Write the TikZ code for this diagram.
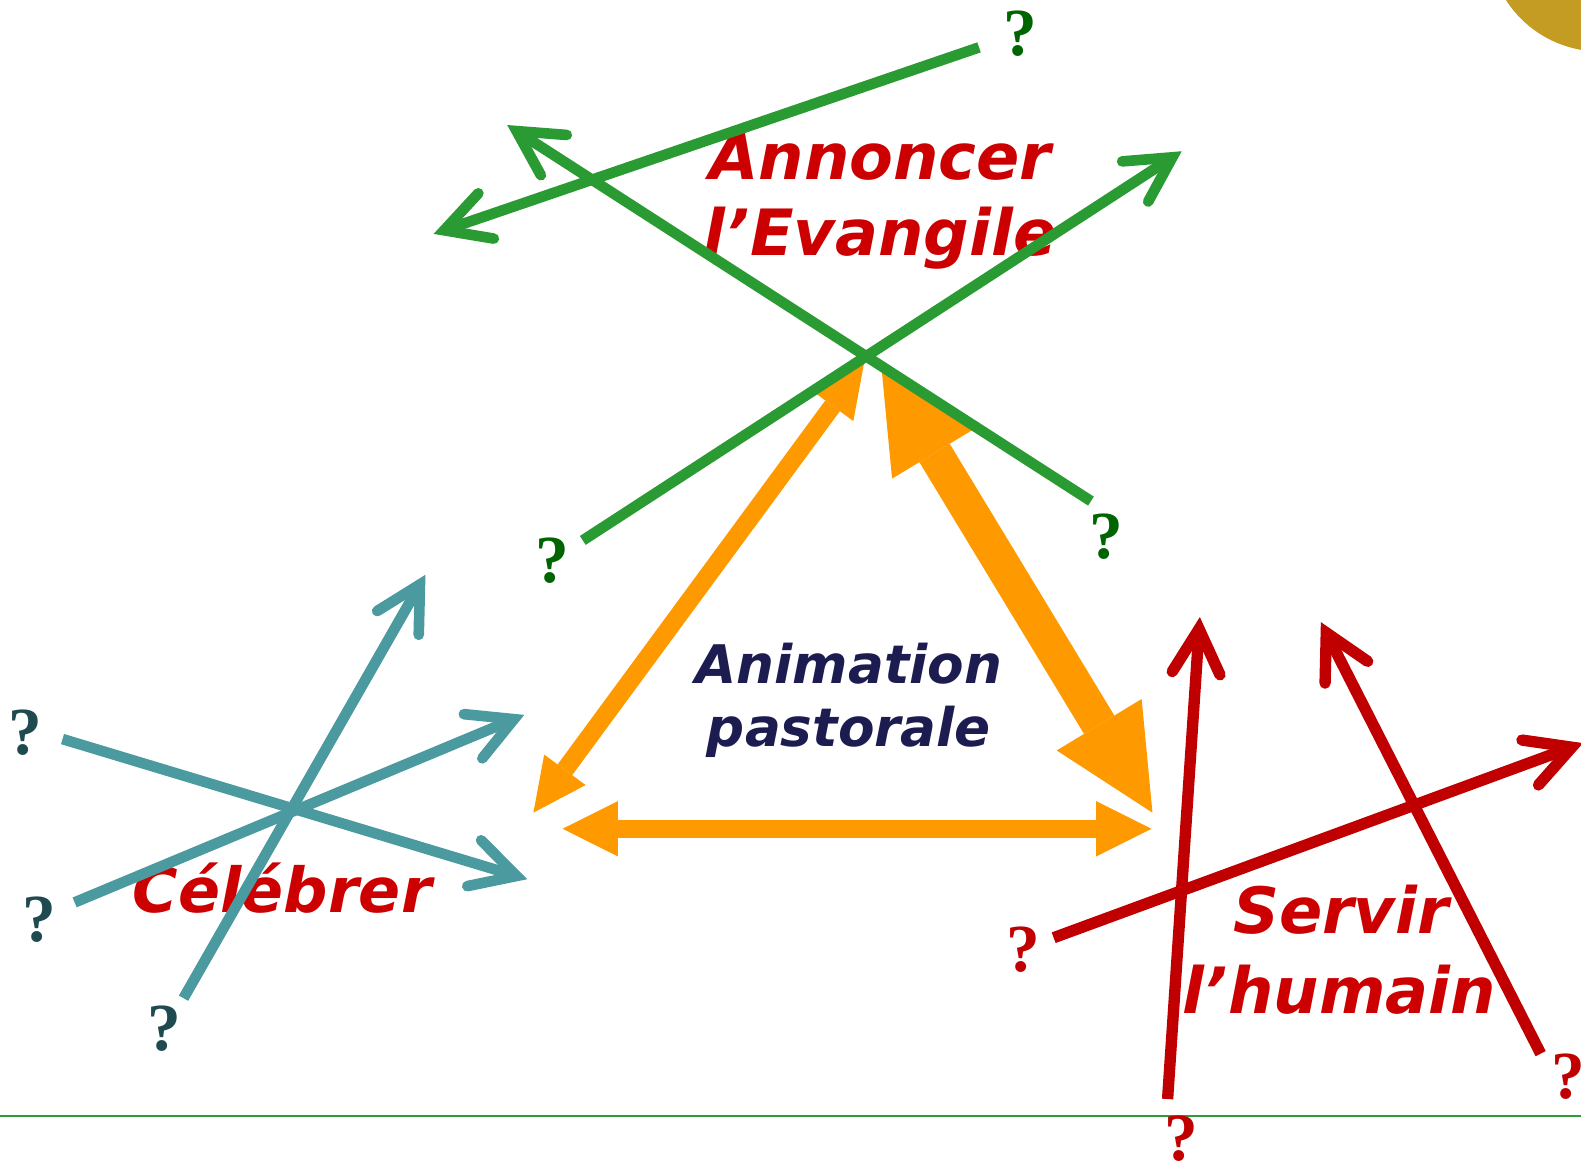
\documentclass[tikz,border=0pt]{standalone}
\usepackage{fontspec}
\usetikzlibrary{arrows.meta}
\newfontfamily\labfont{DejaVu Sans Bold Oblique}
\newfontfamily\qfont{Liberation Serif Bold}
\definecolor{goldc}{RGB}{196,155,35}
\definecolor{orangec}{RGB}{255,153,0}
\definecolor{greenc}{RGB}{42,154,51}
\definecolor{qgreen}{RGB}{0,100,0}
\definecolor{tealc}{RGB}{74,154,160}
\definecolor{qteal}{RGB}{31,74,80}
\definecolor{redl}{RGB}{192,0,0}
\definecolor{redt}{RGB}{204,0,0}
\definecolor{navyc}{RGB}{28,28,80}
\definecolor{basec}{RGB}{46,155,60}
\tikzset{
  barb/.tip={Straight Barb[length=12.5pt,width=13.5pt,line cap=round,line join=miter]},
  crossline/.style={line width=3pt, line cap=butt, -barb},
  gline/.style={crossline, draw=greenc},
  tline/.style={crossline, draw=tealc},
  rline/.style={crossline, draw=redl, line width=3.2pt},
  thinor/.style={draw=orangec, line width=5.1pt,
    {Triangle[length=15pt,width=14.5pt,line width=0pt]}-{Triangle[length=15pt,width=14.5pt,line width=0pt]}},
  thickor/.style={draw=orangec, line width=10pt,
    {Triangle[length=29pt,width=28pt,line width=0pt]}-{Triangle[length=29pt,width=28pt,line width=0pt]}},
  horor/.style={draw=orangec, line width=5.1pt,
    {Triangle[length=15.6pt,width=15.6pt,line width=0pt]}-{Triangle[length=15.6pt,width=15.6pt,line width=0pt]}},
  bigtxt/.style={font=\labfont\fontsize{18}{21}\selectfont, text=redt, inner sep=0pt, anchor=base},
  midtxt/.style={font=\labfont\fontsize{15}{18}\selectfont, text=navyc, inner sep=0pt, anchor=base},
  qmark/.style={font=\qfont\fontsize{19}{21}\selectfont, inner sep=0pt, anchor=center},
}
\begin{document}
\begin{tikzpicture}[x=0.01cm,y=-0.01cm]
\useasboundingbox (0,0) rectangle (1568,1152);
\clip (0,0) rectangle (1568,1152);
% gold disc in the corner
\fill[goldc] (1587,-60) circle [radius=1.11cm];
% base line
\coordinate (bl) at (0,1107);
\coordinate (br) at (1568,1107);
\draw[basec, line width=0.45pt] (bl) -- (br);
% orange triangle of arrows
\coordinate (otl) at (857,360);
\coordinate (obl) at (529,806);
\coordinate (otr) at (874,362);
\coordinate (obr) at (1143,806);
\coordinate (ohl) at (558,822);
\coordinate (ohr) at (1142,822);
\draw[thinor] (obl) -- (otl);
\draw[thickor] (otr) -- (obr);
\draw[horor] (ohl) -- (ohr);
% labels
\node[bigtxt] (ann) at (873,178) {Annoncer};
\node[bigtxt] (evg) at (873,253) {l’Evangile};
\node[midtxt] (anim) at (842,678) {Animation};
\node[midtxt] (past) at (842,740) {pastorale};
\node[bigtxt, font=\labfont\fontsize{17.5}{21}\selectfont] (cel) at (280,905) {Célébrer};
\node[bigtxt] (serv) at (1330,926) {Servir};
\node[bigtxt] (hum) at (1328,1005) {l’humain};
% green lines
\coordinate (g1t) at (971,47);   \coordinate (g1h) at (430,232);
\coordinate (g2t) at (1082,497); \coordinate (g2h) at (503,124);
\coordinate (g3t) at (578,536);  \coordinate (g3h) at (1172,150);
\draw[gline] (g1t) -- (g1h);
\draw[gline] (g2t) -- (g2h);
\draw[gline] (g3t) -- (g3h);
% teal lines
\coordinate (t1t) at (182,990); \coordinate (t1h) at (422,570);
\coordinate (t2t) at (62,733);  \coordinate (t2h) at (523,872);
\coordinate (t3t) at (74,895);  \coordinate (t3h) at (520,709);
\draw[tline] (t1t) -- (t1h);
\draw[tline] (t2t) -- (t2h);
\draw[tline] (t3t) -- (t3h);
% red lines
\coordinate (r1t) at (1158,1090); \coordinate (r1h) at (1190,612);
\coordinate (r2t) at (1528,1045); \coordinate (r2h) at (1310,617);
\coordinate (r3t) at (1045,930);  \coordinate (r3h) at (1570,737);
\draw[rline] (r1t) -- (r1h);
\draw[rline] (r2t) -- (r2h);
\draw[rline] (r3t) -- (r3h);
% question marks
\node[qmark, text=qgreen] (qg1) at (1012,33) {?};
\node[qmark, text=qgreen] (qg2) at (1097,532) {?};
\node[qmark, text=qgreen] (qg3) at (548,556) {?};
\node[qmark, text=qteal] (qt1) at (25,727) {?};
\node[qmark, text=qteal] (qt2) at (39,912) {?};
\node[qmark, text=qteal] (qt3) at (163,1020) {?};
\node[qmark, text=redl] (qr1) at (1015,942) {?};
\node[qmark, text=redl] (qr2) at (1172,1129) {?};
\node[qmark, text=redl] (qr3) at (1555,1068) {?};
\end{tikzpicture}
\end{document}
